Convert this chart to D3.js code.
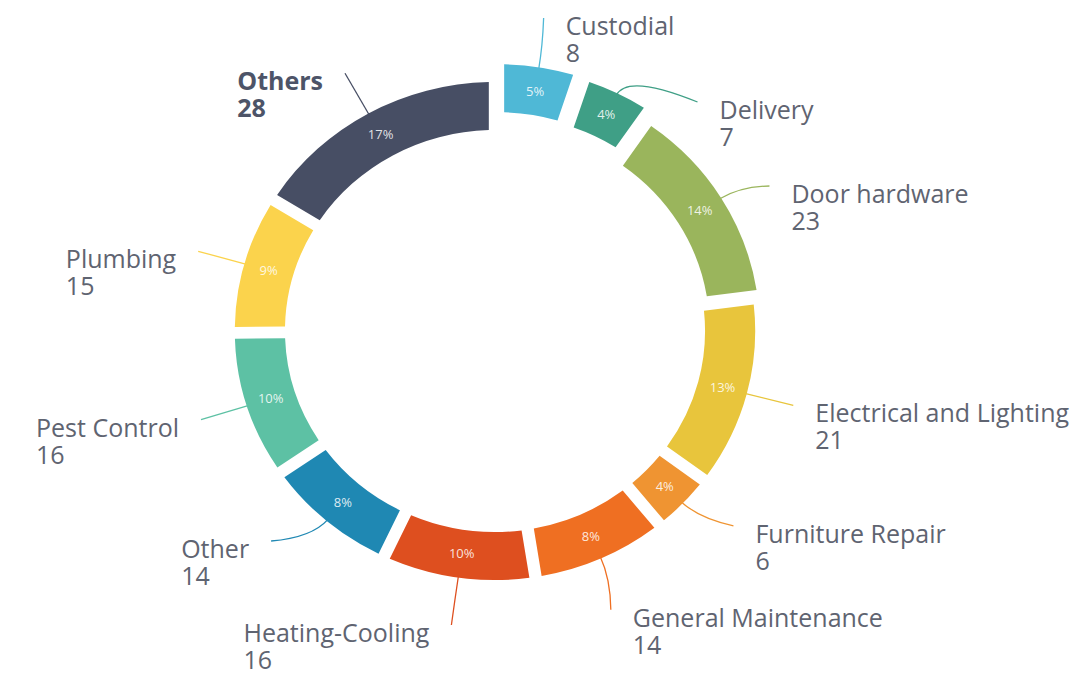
<!DOCTYPE html>
<html>
<head>
<meta charset="utf-8">
<script src="https://cdn.jsdelivr.net/npm/d3@7"></script>
<style>
  body { margin: 0; background: #fff; }
  text { font-family: "Open Sans", sans-serif; }
</style>
</head>
<body>
<svg id="chart"></svg>
<script>
// data
const categories = ["Custodial", "Delivery", "Door hardware", "Electrical and Lighting", "Furniture Repair",
  "General Maintenance", "Heating-Cooling", "Other", "Pest Control", "Plumbing", "Others"];
const counts = [8, 7, 23, 21, 6, 14, 16, 14, 16, 15, 28];
const colors = ["#4fb8d6", "#3f9f86", "#9ab55c", "#e8c53c", "#ef9432", "#ef6f22",
  "#de4f1f", "#1f88b3", "#5dc1a4", "#fbd34c", "#474e64"];

const width = 1077, height = 676;
const cx = 495, cy = 331, sx = 1.045;   // ring is a bit wider than tall in the source
const outerR = 249, innerR = 201, labelR = 295;

// a couple of slices sit pushed outward in the source
const explode = {"Custodial": 18, "Delivery": 16, "Door hardware": 5};

const total = d3.sum(counts);
const fmtPct = d3.format(".0%");

const rows = categories.map((c, i) => ({name: c, value: counts[i], color: colors[i]}));

const pie = d3.pie().sort(null).value(d => d.value).padAngle(0.037);
const arc = d3.arc().innerRadius(innerR).outerRadius(outerR);
const arcs = pie(rows);

const svg = d3.select("#chart")
  .attr("width", width)
  .attr("height", height);

function pt(a, r, off) {
  off = off || 0;
  return [cx + sx * (r + off) * Math.sin(a), cy - (r + off) * Math.cos(a)];
}

const ring = svg.append("g")
  .attr("transform", "translate(" + cx + "," + cy + ") scale(" + sx + ",1)");

ring.selectAll("path.slice")
  .data(arcs)
  .enter()
  .append("path")
    .attr("class", "slice")
    .attr("d", arc)
    .attr("fill", d => d.data.color)
    .attr("transform", d => {
      const e = explode[d.data.name] || 0;
      const m = (d.startAngle + d.endAngle) / 2;
      return "translate(" + (e * Math.sin(m)) + "," + (-e * Math.cos(m)) + ")";
    });

// percentage labels inside the ring
svg.selectAll("text.pct")
  .data(arcs)
  .enter()
  .append("text")
    .attr("class", "pct")
    .attr("x", d => pt((d.startAngle + d.endAngle) / 2, (innerR + outerR) / 2, explode[d.data.name])[0])
    .attr("y", d => pt((d.startAngle + d.endAngle) / 2, (innerR + outerR) / 2, explode[d.data.name])[1])
    .attr("dy", "0.35em")
    .attr("text-anchor", "middle")
    .attr("font-size", "13px")
    .attr("fill", "#fff")
    .attr("fill-opacity", 0.85)
    .text(d => fmtPct(d.value / total));

// outside labels: start at mid angle, then spread vertically per side
const labels = arcs.map(d => {
  const m = (d.startAngle + d.endAngle) / 2;
  const p = pt(m, labelR);
  return {d: d, mid: m, side: Math.sin(m) >= 0 ? 1 : -1, x: p[0], y: p[1], y0: p[1]};
});

const gap = 84, topY = 18, botY = 625;
[1, -1].forEach(side => {
  const list = labels.filter(l => l.side === side).sort((a, b) => a.y - b.y);
  for (let k = 0; k < 300; k++) {
    for (let i = 1; i < list.length; i++) {
      const diff = list[i].y - list[i - 1].y;
      if (diff < gap) {
        const s = (gap - diff) / 2;
        list[i - 1].y -= s;
        list[i].y += s;
      }
    }
    list.forEach(l => { l.y = Math.max(topY, Math.min(botY, l.y)); });
  }
  list.forEach(l => {
    const dy = l.y - cy;
    if (Math.abs(l.y - l.y0) > 3 && Math.abs(dy) < labelR + 5) {
      l.x = cx + side * sx * Math.sqrt((labelR + 5) * (labelR + 5) - dy * dy);
    }
  });
});

labels.forEach(l => {
  const e = explode[l.d.data.name] || 0;
  const p0 = pt(l.mid, outerR, e - 2);
  const c = pt(l.mid, outerR + 22, e);
  const path = d3.path();
  path.moveTo(p0[0], p0[1]);
  path.quadraticCurveTo(c[0], c[1], l.x, l.y);
  svg.append("path")
    .attr("d", path.toString())
    .attr("fill", "none")
    .attr("stroke", l.d.data.color)
    .attr("stroke-width", 1.3);

  const bold = l.d.data.name === "Others";
  const g = svg.append("g");
  const t1 = g.append("text")
    .attr("y", l.y + 17)
    .attr("font-size", "25px")
    .attr("font-weight", bold ? "bold" : "normal")
    .attr("fill", bold ? "#4d5468" : "#5f6471")
    .text(l.d.data.name);
  const t2 = g.append("text")
    .attr("y", l.y + 44)
    .attr("font-size", "25px")
    .attr("font-weight", bold ? "bold" : "normal")
    .attr("fill", bold ? "#4d5468" : "#5f6471")
    .text(l.d.data.value);
  const w = Math.max(t1.node().getComputedTextLength(), t2.node().getComputedTextLength());
  const tx = l.side > 0 ? l.x + 22 : l.x - 22 - w;
  t1.attr("x", tx);
  t2.attr("x", tx);
});
</script>
</body>
</html>
